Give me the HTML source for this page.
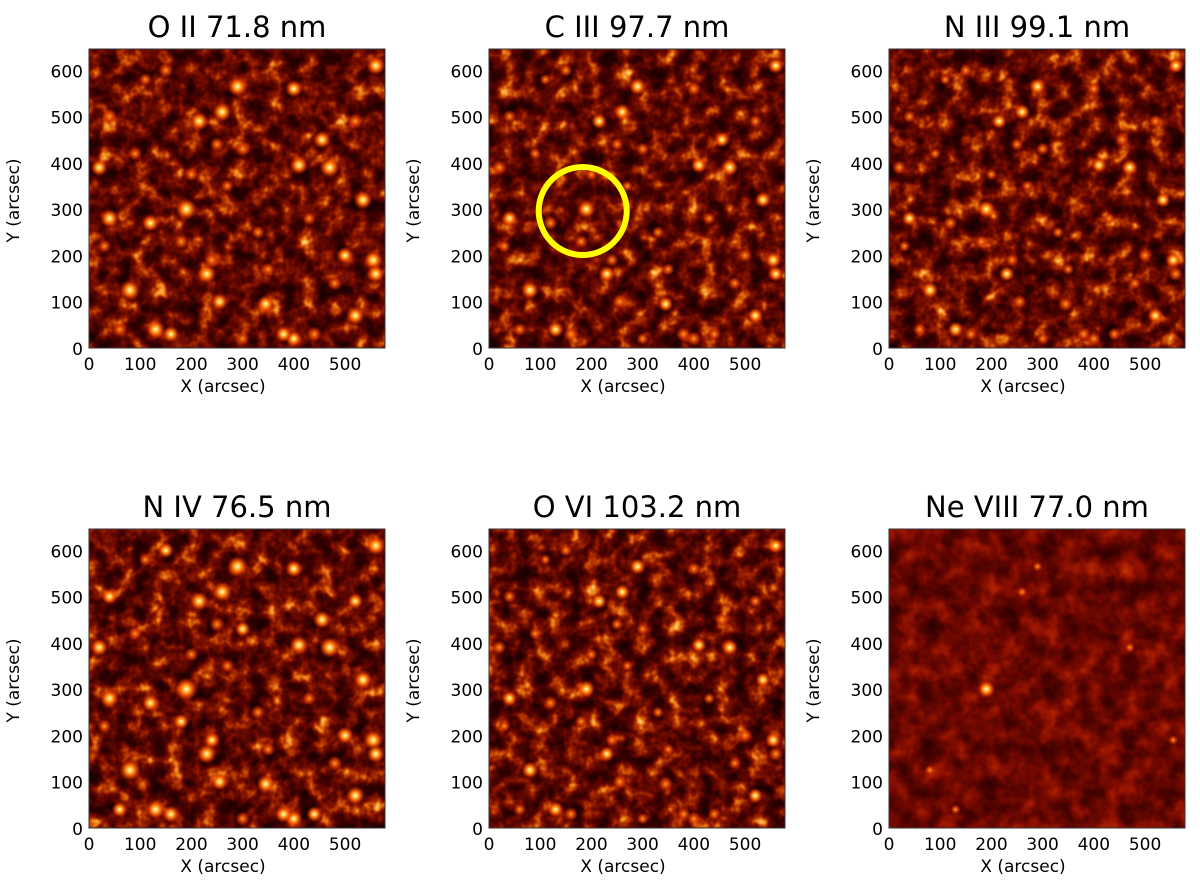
<!DOCTYPE html>
<html><head><meta charset="utf-8"><style>
body{margin:0;background:#fff;width:1200px;height:884px;overflow:hidden}
svg text{font-family:"DejaVu Sans","Liberation Sans",sans-serif;fill:#000}
</style></head><body>
<svg id="fig" width="1200" height="884" viewBox="0 0 1200 884" xmlns="http://www.w3.org/2000/svg">
<defs>
<radialGradient id="blob"><stop offset="0" stop-color="#fff8d0"/><stop offset="0.25" stop-color="#ffc040"/><stop offset="0.55" stop-color="#ff6000" stop-opacity="0.85"/><stop offset="1" stop-color="#c02000" stop-opacity="0"/></radialGradient>
<radialGradient id="blobw"><stop offset="0" stop-color="#ff9a20"/><stop offset="0.5" stop-color="#e04000" stop-opacity="0.8"/><stop offset="1" stop-color="#c02000" stop-opacity="0"/></radialGradient>
<filter id="noise" x="0" y="0" width="100%" height="100%" color-interpolation-filters="sRGB">
<feTurbulence type="fractalNoise" baseFrequency="0.06" numOctaves="3" seed="7"/>
<feColorMatrix type="matrix" values="0 0 0 1 0  0 0 0 1 0  0 0 0 1 0  0 0 0 0 1"/>
<feComponentTransfer>
<feFuncR type="table" tableValues="0.08 0.1 0.12 0.18 0.27 0.38 0.52 0.72 0.92 1 1"/>
<feFuncG type="table" tableValues="0 0 0 0 0.01 0.03 0.08 0.22 0.48 0.75 0.95"/>
<feFuncB type="table" tableValues="0 0 0 0 0 0 0 0 0.08 0.35 0.6"/>
<feFuncA type="table" tableValues="1 1"/>
</feComponentTransfer>
</filter>
<filter id="noise2" x="0" y="0" width="100%" height="100%" color-interpolation-filters="sRGB">
<feTurbulence type="fractalNoise" baseFrequency="0.05" numOctaves="3" seed="3"/>
<feColorMatrix type="matrix" values="0 0 0 1 0  0 0 0 1 0  0 0 0 1 0  0 0 0 0 1"/>
<feComponentTransfer>
<feFuncR type="table" tableValues="0.15 0.2 0.27 0.36 0.47 0.58 0.7 0.82"/>
<feFuncG type="table" tableValues="0 0 0.01 0.02 0.04 0.08 0.14 0.25"/>
<feFuncB type="table" tableValues="0 0 0 0 0 0 0 0"/>
<feFuncA type="table" tableValues="1 1"/>
</feComponentTransfer>
</filter>
</defs>
</svg>
<script>
const titles=["O II 71.8 nm","C III 97.7 nm","N III 99.1 nm","N IV 76.5 nm","O VI 103.2 nm","Ne VIII 77.0 nm"];
const xTicks=[0,100,200,300,400,500];
const yTicks=[0,100,200,300,400,500,600];
const blobX=[190,80,290,215,260,470,410,535,555,560,520,130,160,230,255,345,240,40,120,300,400,455,20,400,380,440,520,40,250,180,500,200,30,330,90,150,480,560,300,350,60,430,110,270];
const blobY=[300,125,565,490,510,390,395,320,190,160,70,40,30,160,100,95,190,280,270,430,560,450,390,20,30,30,490,500,440,230,200,375,220,250,420,600,140,610,20,170,40,280,580,350];
const blobI=[1,0.95,0.9,0.8,0.85,0.9,0.8,0.8,0.85,0.75,0.8,0.85,0.7,0.8,0.7,0.75,0.6,0.8,0.7,0.6,0.7,0.75,0.7,0.7,0.7,0.6,0.6,0.6,0.55,0.6,0.7,0.5,0.5,0.5,0.5,0.6,0.55,0.8,0.5,0.5,0.6,0.5,0.45,0.45];
const panelGain=[1,0.8,0.75,1.05,0.75,0.3];
const NS="http://www.w3.org/2000/svg";
const svg=document.getElementById('fig');
const PW=296,PH=299,XMAX=578,YMAX=646;
const ox=[89,489,889,89,489,889], oy=[49,49,49,529,529,529];
function mk(t,a,p){const e=document.createElementNS(NS,t);for(const k in a)e.setAttribute(k,a[k]);(p||svg).appendChild(e);return e;}
function sx(i,v){return ox[i]+v/XMAX*PW;}
function sy(i,v){return oy[i]+PH-v/YMAX*PH;}
for(let i=0;i<6;i++){
  const g=mk('g',{});
  
  
  const cp=mk('clipPath',{id:'c'+i},g);
  mk('rect',{x:ox[i],y:oy[i],width:PW,height:PH},cp);
  const im=mk('g',{'clip-path':'url(#c'+i+')'},g);
  
  
  mk('rect',{x:ox[i],y:oy[i],width:PW,height:PH,filter:i<5?'url(#noise)':'url(#noise2)'},im);
  for(let k=0;k<blobX.length;k++){
    const v=blobI[k]*panelGain[i];
    if(v<0.25) continue;
    const c=mk('circle',{cx:sx(i,blobX[k]),cy:sy(i,blobY[k]),r:3+8*v,fill:v>0.6?'url(#blob)':'url(#blobw)'},im);
    
    
  }
  if(i==5){const c=mk('circle',{cx:sx(i,190),cy:sy(i,300),r:9,fill:'url(#blob)'},im);}
  mk('rect',{x:ox[i],y:oy[i],width:PW,height:PH,fill:'none',stroke:'#333','stroke-width':1},g);
  const t=mk('text',{x:ox[i]+PW/2,y:oy[i]-12,'text-anchor':'middle','font-size':29},g);t.textContent=titles[i];
  
  
  xTicks.forEach(v=>{const l=mk('text',{x:sx(i,v),y:oy[i]+PH+22,'text-anchor':'middle','font-size':17},g);l.textContent=v;
    
    });
  yTicks.forEach(v=>{const l=mk('text',{x:ox[i]-6,y:sy(i,v)+7,'text-anchor':'end','font-size':17},g);l.textContent=v;
    
    });
  const xl=mk('text',{x:ox[i]+PW/2-14,y:oy[i]+PH+44,'text-anchor':'middle','font-size':17},g);xl.textContent='X (arcsec)';
  
  
  const yx=ox[i]-70,yy=oy[i]+PH/2+2;
  const yl=mk('text',{x:yx,y:yy,'text-anchor':'middle','font-size':17,transform:`rotate(-90 ${yx} ${yy})`},g);yl.textContent='Y (arcsec)';
  
  
}
const ring=mk('circle',{cx:sx(1,183),cy:sy(1,296),r:44,fill:'none',stroke:'#ffff00','stroke-width':6});


</script>
</body></html>
